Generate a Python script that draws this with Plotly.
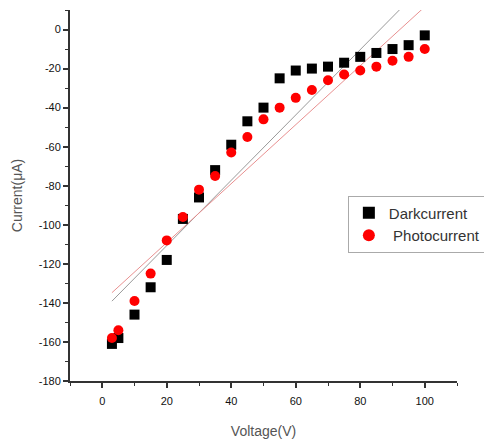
import numpy as np
import plotly.graph_objects as go

voltage = [3, 5, 10, 15, 20, 25, 30, 35, 40, 45, 50, 55, 60, 65, 70, 75, 80, 85, 90, 95, 100]
dark_current = [-161, -158, -146, -132, -118, -97, -86, -72, -59, -47, -40, -25, -21, -20, -19, -17, -14, -12, -10, -8, -3]
photo_current = [-158, -154, -139, -125, -108, -96, -82, -75, -63, -55, -46, -40, -35, -31, -26, -23, -21, -19, -16, -14, -10]
x_ticks = [0, 20, 40, 60, 80, 100]
y_ticks = [0, -20, -40, -60, -80, -100, -120, -140, -160, -180]

x = np.array(voltage, dtype=float)
dk = np.polyfit(x, np.array(dark_current, dtype=float), 1)
ph = np.polyfit(x, np.array(photo_current, dtype=float), 1)
xfit = np.array([min(voltage), max(voltage)], dtype=float)

fig = go.Figure()
fig.add_trace(go.Scatter(x=xfit, y=np.polyval(dk, xfit), mode="lines",
                         line=dict(color="#9a9a9a", width=1), showlegend=False, hoverinfo="skip"))
fig.add_trace(go.Scatter(x=xfit, y=np.polyval(ph, xfit), mode="lines",
                         line=dict(color="#e89090", width=1), showlegend=False, hoverinfo="skip"))
fig.add_trace(go.Scatter(x=voltage, y=dark_current, mode="markers", name="Darkcurrent",
                         marker=dict(symbol="square", size=10, color="black")))
fig.add_trace(go.Scatter(x=voltage, y=photo_current, mode="markers", name=" Photocurrent",
                         marker=dict(symbol="circle", size=10, color="#ff0000")))

axis_common = dict(
    showline=True, linecolor="#333333", linewidth=2, showgrid=False, zeroline=False,
    ticks="outside", ticklen=5, tickwidth=1.5, tickcolor="#333333",
    tickfont=dict(family="Liberation Sans, Arial", size=11, color="#111111"),
    minor=dict(ticks="outside", ticklen=3, tickwidth=1, tickcolor="#333333", dtick=10, showgrid=False),
    mirror=False,
)

fig.update_xaxes(range=[-10, 110], tickvals=x_ticks, ticktext=[str(v) for v in x_ticks],
                 ticklabelstandoff=4,
                 title=dict(text="Voltage(V)", font=dict(family="Liberation Sans, Arial", size=14, color="#555555"),
                            standoff=20),
                 **axis_common)
fig.update_yaxes(range=[-180, 10], tickvals=y_ticks, ticktext=[str(v) for v in y_ticks],
                 title=dict(text="Current(μA)", font=dict(family="Liberation Sans, Arial", size=14, color="#555555"),
                            standoff=13),
                 **axis_common)

# page body has an 8px default margin, so the figure is sized/offset to compensate
fig.update_layout(
    width=484, height=431,
    margin=dict(l=62, r=35, t=2, b=58),
    paper_bgcolor="white", plot_bgcolor="white",
    font=dict(family="Liberation Sans, Arial", color="#222222"),
    legend=dict(x=0.718, y=0.50, xanchor="left", yanchor="top",
                bordercolor="#aaaaaa", borderwidth=1, bgcolor="white",
                font=dict(family="Liberation Sans, Arial", size=15, color="#333333"),
                tracegroupgap=0, itemsizing="constant"),
)

fig.write_html("out.html")
